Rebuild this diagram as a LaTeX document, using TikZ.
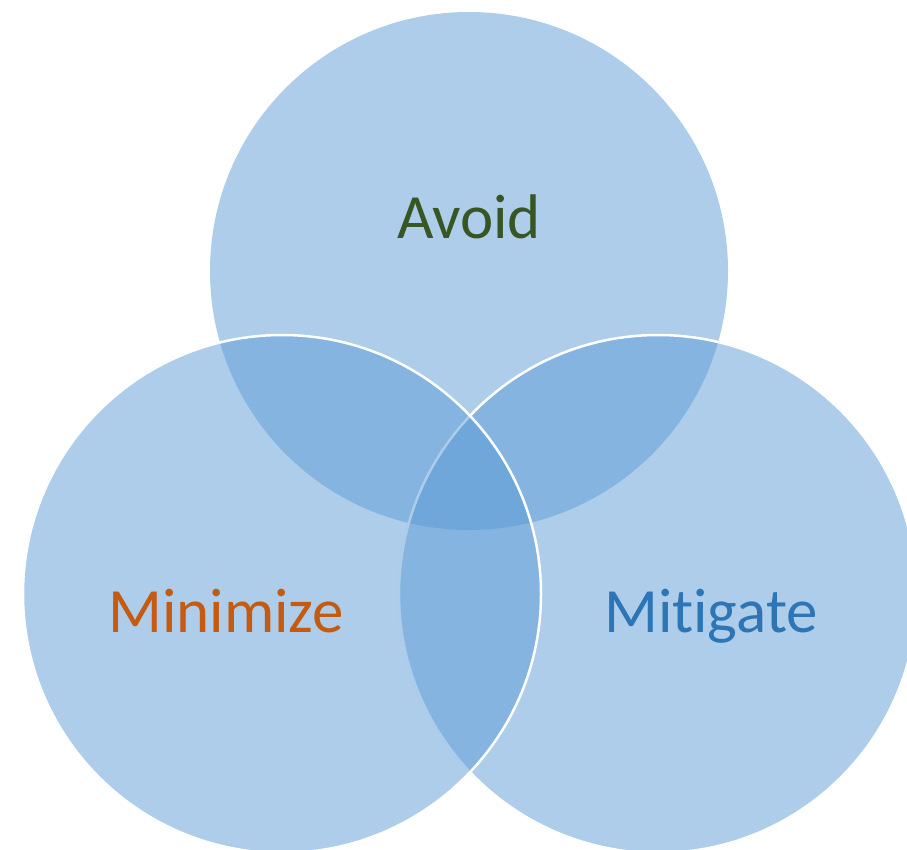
\documentclass[tikz,border=0pt]{standalone}
\usepackage{fontspec}
\setmainfont[Ligatures={NoCommon,NoDiscretionary,NoRare}]{Carlito}
\definecolor{circfill}{HTML}{5B9BD5}
\definecolor{avoidc}{HTML}{375623}
\definecolor{minic}{HTML}{C55A11}
\definecolor{mitic}{HTML}{2E75B6}
\tikzset{
  venn/.style={circle, minimum size=518pt, inner sep=0pt, fill=circfill, fill opacity=0.5},
  vennline/.style={venn, draw=white, draw opacity=1, line width=2.5pt},
  lbl/.style={anchor=base, font=\fontsize{63}{70}\selectfont, inner sep=0pt}
}
\begin{document}
\begin{tikzpicture}[x=1pt,y=-1pt]
\useasboundingbox (0,0) rectangle (907,849);
\begin{scope}
\clip (0,0) rectangle (907,849);
\node[venn] (top) at (469,271) {};
\node[vennline] (right) at (658,594) {};
\node[vennline] (left) at (282,594) {};
\end{scope}
\node[lbl, text=avoidc] (avoid) at (469,238) {Avoid};
\node[lbl, text=minic] (mini) at (226,632) {Minimize};
\node[lbl, text=mitic] (miti) at (711,632) {Mitigate};
\end{tikzpicture}
\end{document}
